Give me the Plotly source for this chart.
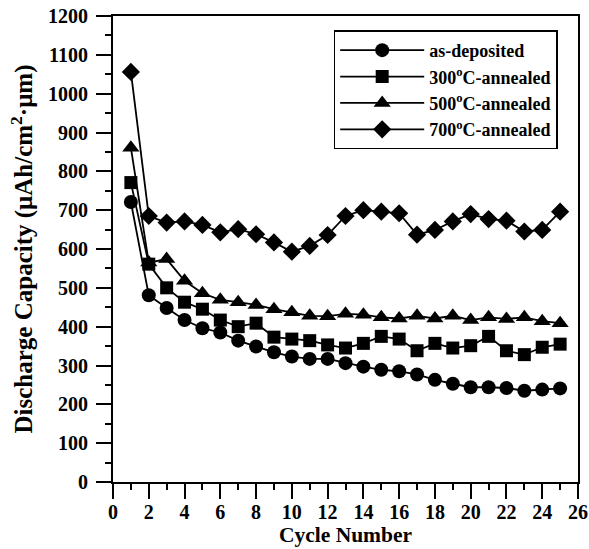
import plotly.graph_objects as go

cycles = list(range(1, 26))
as_deposited = [721, 481, 448, 417, 396, 385, 364, 349, 334, 323, 317, 317, 306,
                297, 289, 285, 277, 263, 253, 244, 244, 242, 235, 238, 241]
annealed_300 = [771, 561, 500, 463, 445, 417, 400, 409, 373, 368, 364, 353, 345,
                357, 375, 368, 338, 357, 345, 351, 375, 338, 328, 347, 355]
annealed_500 = [861, 565, 574, 518, 486, 469, 463, 456, 445, 437, 428, 427, 433,
                431, 424, 421, 428, 421, 428, 417, 424, 420, 424, 414, 409]
annealed_700 = [1056, 685, 668, 671, 662, 643, 651, 638, 617, 593, 608, 636, 685,
                700, 696, 692, 637, 649, 671, 690, 677, 673, 645, 649, 696]

names = ["as-deposited", "300<sup>o</sup>C-annealed",
         "500<sup>o</sup>C-annealed", "700<sup>o</sup>C-annealed"]
series = [as_deposited, annealed_300, annealed_500, annealed_700]
symbols = ["circle", "square", "triangle-up", "diamond"]
sizes = [14, 13, 15, 14]

font_family = "Liberation Serif"

fig = go.Figure()
for name, vals, sym, sz in zip(names, series, symbols, sizes):
    fig.add_trace(go.Scatter(
        x=cycles, y=vals, name=name, mode="lines+markers",
        line=dict(color="black", width=1.8),
        marker=dict(symbol=sym, size=sz, color="black",
                    line=dict(width=0)),
    ))

axis_common = dict(
    showline=True, linecolor="black", linewidth=2, mirror=True,
    showgrid=False, zeroline=False, automargin=False,
    ticks="outside", ticklen=15, tickwidth=2, tickcolor="black",
    tickfont=dict(family=font_family, size=20, color="black", weight="bold"),
)

fig.update_layout(
    width=589, height=549,
    margin=dict(l=113, r=11, t=16, b=67),
    paper_bgcolor="white", plot_bgcolor="white",
    font=dict(family=font_family, color="black", weight="bold"),
    xaxis=dict(
        range=[0, 26], tick0=0, dtick=2, ticklabelstandoff=-4,
        minor=dict(dtick=1, ticklen=6, tickwidth=2, tickcolor="black", ticks="outside"),
        title=dict(text="Cycle Number", standoff=2,
                   font=dict(family=font_family, size=21.5, color="black", weight="bold")),
        **axis_common,
    ),
    yaxis=dict(
        range=[0, 1200], tick0=0, dtick=100, ticklabelstandoff=4,
        minor=dict(dtick=50, ticklen=6, tickwidth=2, tickcolor="black", ticks="outside"),
        title=dict(text="Discharge Capacity (μAh/cm<sup>2</sup>·μm)", standoff=8,
                   font=dict(family=font_family, size=25, color="black", weight="bold")),
        **axis_common,
    ),
    legend=dict(
        x=0.4746, y=0.969, xanchor="left", yanchor="top",
        bgcolor="white", bordercolor="black", borderwidth=1.5,
        font=dict(family=font_family, size=18, color="black", weight="bold"),
        itemwidth=84, tracegroupgap=0,
    ),
    showlegend=True,
)

fig.write_html("out.html")
